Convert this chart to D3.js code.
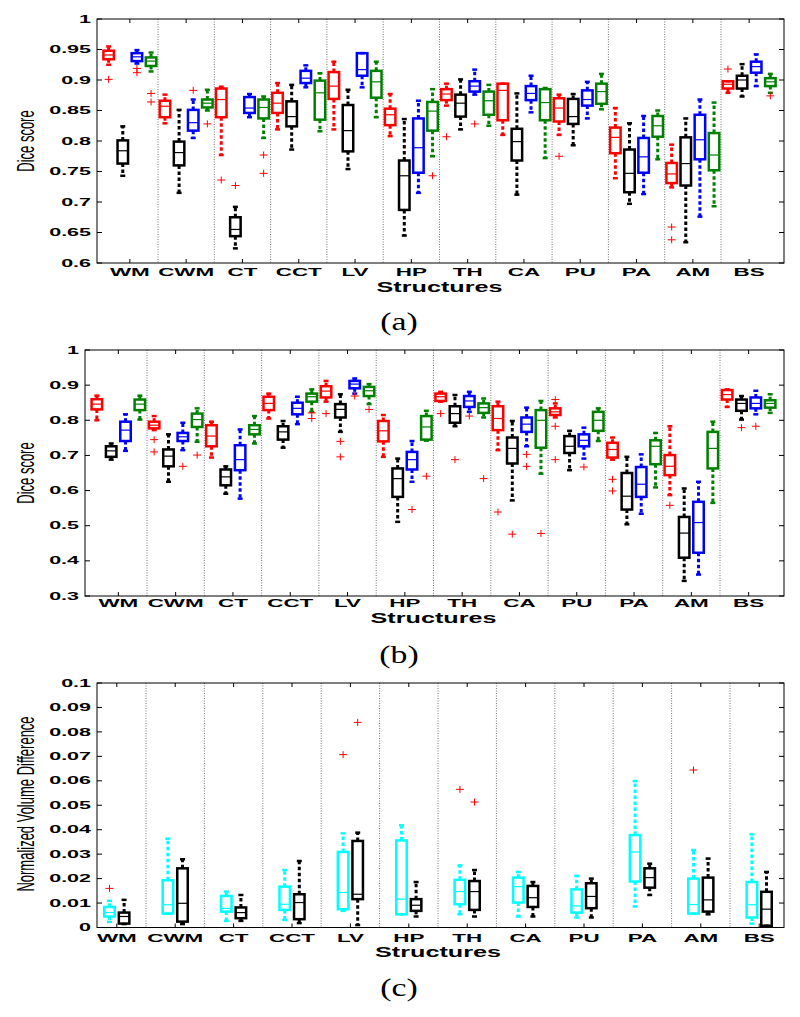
<!DOCTYPE html>
<html><head><meta charset="utf-8">
<script src="https://cdn.jsdelivr.net/npm/d3@7"></script>
<style>body{margin:0;background:#fff}</style>
</head><body>
<svg id="chart" width="800" height="1017"></svg>
<script>
// ---------------- DATA ----------------
const categories = ["WM","CWM","CT","CCT","LV","HP","TH","CA","PU","PA","AM","BS"];
const seriesDice = ["red","black","blue","green"];
const seriesVol = ["cyan","black"];

// stats per category: [lowerWhisker, q1, median, q3, upperWhisker]
const diceA_red = [
 [0.925,0.934,0.941,0.948,0.955],[0.829,0.839,0.857,0.866,0.876],[0.777,0.839,0.868,0.886,0.889],
 [0.819,0.846,0.862,0.879,0.895],[0.819,0.869,0.890,0.913,0.930],[0.808,0.826,0.843,0.853,0.877],
 [0.858,0.867,0.877,0.885,0.894],[0.810,0.834,0.883,0.894,0.894],[0.810,0.832,0.854,0.870,0.876],
 [0.739,0.780,0.806,0.822,0.854],[0.724,0.731,0.746,0.764,0.794],[0.879,0.886,0.893,0.898,0.898]];
const diceA_black = [
 [0.743,0.763,0.784,0.801,0.824],[0.715,0.760,0.781,0.799,0.851],[0.624,0.644,0.655,0.675,0.692],
 [0.786,0.824,0.840,0.865,0.892],[0.754,0.783,0.817,0.859,0.884],[0.645,0.687,0.743,0.768,0.836],
 [0.819,0.840,0.862,0.876,0.901],[0.712,0.768,0.799,0.820,0.878],[0.793,0.828,0.840,0.869,0.877],
 [0.697,0.716,0.747,0.786,0.829],[0.634,0.727,0.763,0.806,0.837],[0.873,0.886,0.900,0.907,0.926]];
const diceA_blue = [
 [0.927,0.931,0.938,0.944,0.949],[0.805,0.817,0.830,0.851,0.868],[0.839,0.846,0.854,0.872,0.877],
 [0.888,0.895,0.903,0.915,0.924],[0.888,0.907,0.917,0.944,0.944],[0.715,0.748,0.789,0.837,0.866],
 [0.876,0.881,0.890,0.898,0.917],[0.847,0.867,0.878,0.890,0.907],[0.837,0.858,0.868,0.883,0.897],
 [0.713,0.748,0.774,0.805,0.841],[0.676,0.770,0.802,0.843,0.868],[0.890,0.912,0.922,0.930,0.942]];
const diceA_green = [
 [0.914,0.923,0.931,0.937,0.945],[0.850,0.855,0.862,0.868,0.884],[0.805,0.837,0.855,0.868,0.873],
 [0.816,0.835,0.879,0.899,0.911],[0.839,0.871,0.897,0.915,0.930],[0.775,0.817,0.849,0.864,0.885],
 [0.825,0.843,0.866,0.881,0.892],[0.772,0.834,0.863,0.885,0.887],[0.852,0.861,0.881,0.894,0.910],
 [0.770,0.807,0.825,0.841,0.850],[0.693,0.752,0.777,0.813,0.863],[0.879,0.890,0.897,0.903,0.910]];
const outA_red = [["WM",0.901],["CT",0.736],["TH",0.807],["PU",0.775],["AM",0.659],["AM",0.638],["BS",0.918]];
const outA_black = [["CT",0.727]];
const outA_blue = [["WM",0.919],["WM",0.912],["CWM",0.883],["TH",0.828]];
const outA_green = [["WM",0.878],["WM",0.864],["CWM",0.828],["CT",0.777],["CT",0.747],["HP",0.743],["BS",0.874]];

const diceB_red = [
 [0.800,0.831,0.846,0.860,0.870],[0.772,0.777,0.786,0.796,0.812],[0.694,0.726,0.755,0.786,0.796],
 [0.805,0.829,0.848,0.867,0.876],[0.853,0.865,0.883,0.897,0.912],[0.696,0.740,0.770,0.798,0.815],
 [0.853,0.855,0.867,0.876,0.881],[0.715,0.772,0.805,0.840,0.853],[0.808,0.815,0.824,0.834,0.848],
 [0.688,0.694,0.717,0.736,0.751],[0.587,0.644,0.669,0.701,0.783],[0.838,0.859,0.873,0.886,0.888]];
const diceB_black = [
 [0.688,0.696,0.713,0.726,0.734],[0.625,0.669,0.698,0.717,0.760],[0.591,0.615,0.639,0.660,0.669],
 [0.722,0.745,0.767,0.783,0.798],[0.767,0.808,0.831,0.846,0.874],[0.511,0.582,0.634,0.663,0.691],
 [0.783,0.793,0.819,0.840,0.872],[0.572,0.677,0.720,0.751,0.798],[0.658,0.707,0.726,0.755,0.770],
 [0.504,0.546,0.584,0.650,0.696],[0.343,0.409,0.479,0.525,0.606],[0.802,0.827,0.848,0.859,0.869]];
const diceB_blue = [
 [0.713,0.741,0.772,0.796,0.817],[0.715,0.741,0.753,0.764,0.793],[0.577,0.658,0.688,0.729,0.774],
 [0.789,0.817,0.834,0.850,0.867],[0.876,0.891,0.903,0.912,0.919],[0.625,0.660,0.688,0.710,0.741],
 [0.824,0.838,0.855,0.869,0.881],[0.726,0.767,0.789,0.808,0.836],[0.691,0.726,0.743,0.760,0.779],
 [0.534,0.582,0.618,0.667,0.703],[0.361,0.423,0.509,0.568,0.625],[0.817,0.834,0.848,0.865,0.884]];
const diceB_green = [
 [0.802,0.829,0.846,0.859,0.870],[0.739,0.781,0.802,0.819,0.834],[0.734,0.760,0.774,0.786,0.812],
 [0.824,0.853,0.867,0.876,0.888],[0.846,0.869,0.884,0.895,0.903],[0.742,0.745,0.781,0.812,0.827],
 [0.808,0.821,0.836,0.848,0.862],[0.648,0.722,0.800,0.829,0.855],[0.741,0.770,0.800,0.824,0.834],
 [0.609,0.675,0.726,0.743,0.764],[0.565,0.663,0.720,0.767,0.796],[0.821,0.836,0.848,0.857,0.874]];
const outB_red = [["CWM",0.745],["CWM",0.710],["LV",0.819],["TH",0.819],["CA",0.539],["PU",0.859],["PU",0.783],["PU",0.688],["PA",0.632],["PA",0.599],["AM",0.558]];
const outB_black = [["LV",0.740],["LV",0.696],["TH",0.688],["CA",0.476],["BS",0.779]];
const outB_blue = [["CWM",0.669],["LV",0.869],["HP",0.546],["TH",0.812],["CA",0.703],["CA",0.669],["PU",0.667],["BS",0.783]];
const outB_green = [["CWM",0.701],["CCT",0.821],["CCT",0.805],["LV",0.831],["HP",0.641],["TH",0.634],["CA",0.478]];

const volC_cyan = [
 [0.0023,0.0045,0.0061,0.0084,0.0109],[0.0057,0.0057,0.0093,0.0193,0.0363],[0.0027,0.0065,0.0078,0.0129,0.0147],
 [0.0031,0.0072,0.0095,0.0167,0.0235],[0.0068,0.0075,0.0143,0.0309,0.0385],[0.0054,0.0054,0.0116,0.0356,0.0418],
 [0.0054,0.0095,0.0147,0.0195,0.0254],[0.0045,0.0102,0.0167,0.0204,0.0227],[0.0041,0.0061,0.0088,0.0156,0.0211],
 [0.0086,0.0188,0.0309,0.0378,0.0599],[0.0057,0.0057,0.0094,0.0200,0.0317],[0.0016,0.0041,0.0093,0.0186,0.0381]];
const volC_black = [
 [0.0014,0.0016,0.0045,0.0061,0.0113],[0.0014,0.0024,0.0099,0.0242,0.0279],[0.0027,0.0038,0.0061,0.0082,0.0133],
 [0.0018,0.0034,0.0102,0.0136,0.0272],[0.0010,0.0116,0.0136,0.0354,0.0388],[0.0045,0.0068,0.0091,0.0116,0.0186],
 [0.0045,0.0072,0.0147,0.0190,0.0235],[0.0045,0.0084,0.0122,0.0170,0.0186],[0.0041,0.0079,0.0127,0.0181,0.0200],
 [0.0133,0.0163,0.0204,0.0242,0.0261],[0.0054,0.0065,0.0113,0.0204,0.0282],[0.0007,0.0007,0.0075,0.0146,0.0227]];
const outC_cyan = [["WM",0.016],["LV",0.0707],["TH",0.0565],["AM",0.0644]];
const outC_black = [["LV",0.0839],["TH",0.0513]];

const yTicksA = [0.6,0.65,0.7,0.75,0.8,0.85,0.9,0.95,1];
const yTickLabelsA = ["0.6","0.65","0.7","0.75","0.8","0.85","0.9","0.95","1"];
const yTicksB = [0.3,0.4,0.5,0.6,0.7,0.8,0.9,1];
const yTickLabelsB = ["0.3","0.4","0.5","0.6","0.7","0.8","0.9","1"];
const yTicksC = [0,0.01,0.02,0.03,0.04,0.05,0.06,0.07,0.08,0.09,0.1];
const yTickLabelsC = ["0","0.01","0.02","0.03","0.04","0.05","0.06","0.07","0.08","0.09","0.1"];

const colors = {red:"#ff0000", black:"#000000", blue:"#0000ff", green:"#008000", cyan:"#00ffff"};

// ---------------- DRAW ----------------
const svg = d3.select("#chart");
svg.append("rect").attr("width",800).attr("height",1017).attr("fill","#fff");

function drawPanel(o) {
  const g = svg.append("g");
  const x = d3.scaleBand().domain(categories).range(o.band).padding(0);
  const y = d3.scaleLinear().domain(o.yDomain).range([o.bottom, o.top]);
  const sub = d3.scalePoint().domain(o.series.map(s => s.name)).range(o.offsets);
  const bw = o.boxWidth, half = bw/2;

  g.selectAll("line.sep").data(categories.slice(1)).join("line")
    .attr("x1", d => x(d)).attr("x2", d => x(d))
    .attr("y1", o.top).attr("y2", o.bottom)
    .attr("stroke","#777").attr("stroke-width",1).attr("stroke-dasharray","1,1.5");

  o.series.forEach(s => {
    const col = colors[s.name];
    const sg = g.append("g");
    const rows = s.stats.map((st,i) => ({cat:categories[i], st, cx: x(categories[i]) + x.bandwidth()/2 + sub(s.name)}));
    sg.selectAll("line.wu").data(rows).join("line")
      .attr("x1", d=>d.cx).attr("x2", d=>d.cx).attr("y1", d=>y(d.st[3])).attr("y2", d=>y(d.st[4]))
      .attr("stroke", col).attr("stroke-width", 3).attr("stroke-dasharray","3.5,2.5");
    sg.selectAll("line.wl").data(rows).join("line")
      .attr("x1", d=>d.cx).attr("x2", d=>d.cx).attr("y1", d=>y(d.st[1])).attr("y2", d=>y(d.st[0]))
      .attr("stroke", col).attr("stroke-width", 3).attr("stroke-dasharray","3.5,2.5");
    [0,4].forEach(k => {
      sg.selectAll("line.cap"+k).data(rows).join("line")
        .attr("x1", d=>d.cx-2.5).attr("x2", d=>d.cx+2.5).attr("y1", d=>y(d.st[k])).attr("y2", d=>y(d.st[k]))
        .attr("stroke", col).attr("stroke-width", 2.5);
    });
    sg.selectAll("rect").data(rows).join("rect")
      .attr("x", d=>d.cx-half).attr("width", bw)
      .attr("y", d=>y(d.st[3])).attr("height", d=>Math.max(0.5, y(d.st[1])-y(d.st[3])))
      .attr("fill","none").attr("stroke", col).attr("stroke-width", 2.5);
    sg.selectAll("line.med").data(rows).join("line")
      .attr("x1", d=>d.cx-half).attr("x2", d=>d.cx+half).attr("y1", d=>y(d.st[2])).attr("y2", d=>y(d.st[2]))
      .attr("stroke", col).attr("stroke-width", 1.2);
    const outs = s.outliers.map(([c,v]) => ({cx: x(c) + x.bandwidth()/2 + sub(s.name), cy: y(v)}));
    const og = sg.selectAll("g.out").data(outs).join("g").attr("transform", d=>`translate(${d.cx},${d.cy})`);
    og.append("line").attr("x1",-4).attr("x2",4).attr("stroke","#ff0000").attr("stroke-width",1);
    og.append("line").attr("y1",-3.5).attr("y2",3.5).attr("stroke","#ff0000").attr("stroke-width",1);
  });

  g.append("rect").attr("x",o.left).attr("y",o.top).attr("width",o.right-o.left).attr("height",o.bottom-o.top)
    .attr("fill","none").attr("stroke","#000").attr("stroke-width",1);

  o.yTicks.forEach((t,i) => {
    const yy = y(t);
    g.append("line").attr("x1",o.left).attr("x2",o.left+5).attr("y1",yy).attr("y2",yy).attr("stroke","#000");
    g.append("line").attr("x1",o.right-5).attr("x2",o.right).attr("y1",yy).attr("y2",yy).attr("stroke","#000");
    g.append("text").attr("transform",`translate(${o.left-6},${yy+3.6}) scale(2.15,1)`)
      .attr("text-anchor","end").attr("font-family","Liberation Sans, Arial, sans-serif")
      .attr("font-weight","bold").attr("font-size",10).text(o.yTickLabels[i]);
  });
  categories.forEach(c => {
    const cx = x(c) + x.bandwidth()/2;
    g.append("line").attr("x1",cx).attr("x2",cx).attr("y1",o.bottom).attr("y2",o.bottom-4).attr("stroke","#000");
    g.append("line").attr("x1",cx).attr("x2",cx).attr("y1",o.top).attr("y2",o.top+4).attr("stroke","#000");
    g.append("text").attr("transform",`translate(${cx},${o.bottom+o.labelDy}) scale(1.95,1)`)
      .attr("text-anchor","middle").attr("font-family","Liberation Sans, Arial, sans-serif")
      .attr("font-weight","bold").attr("font-size",11.5).text(c);
  });
  const mid = (o.band[0]+o.band[1])/2;
  g.append("text").attr("transform",`translate(${mid},${o.bottom+o.titleDy}) scale(1.8,1)`)
    .attr("text-anchor","middle").attr("font-family","Liberation Sans, Arial, sans-serif")
    .attr("font-weight","bold").attr("font-size",14).text("Structures");
  g.append("text").attr("transform",`translate(25,${o.ylabelY}) scale(1.9,1) rotate(-90)`)
    .attr("text-anchor","middle").attr("dy","0.35em").attr("font-family","Liberation Sans, Arial, sans-serif")
    .attr("font-size",13).text(o.ylabel);
  g.append("text").attr("transform",`translate(399,${o.captionY}) scale(1.3,1)`)
    .attr("text-anchor","middle").attr("font-family","Liberation Serif, serif")
    .attr("font-size",26).text(o.caption);
}

drawPanel({
  left:97, right:784, top:19, bottom:263, band:[101.7,777.3], yDomain:[0.6,1],
  yTicks:yTicksA, yTickLabels:yTickLabelsA, offsets:[-21.2,21.2], boxWidth:10.5,
  series: seriesDice.map((n,i)=>({name:n, stats:[diceA_red,diceA_black,diceA_blue,diceA_green][i], outliers:[outA_red,outA_black,outA_blue,outA_green][i]})),
  labelDy:12.5, titleDy:29, ylabel:"Dice score", ylabelY:141, caption:"(a)", captionY:330
});
drawPanel({
  left:85, right:784, top:350, bottom:596, band:[89.7,777.3], yDomain:[0.3,1],
  yTicks:yTicksB, yTickLabels:yTickLabelsB, offsets:[-21.5,21.5], boxWidth:10.5,
  series: seriesDice.map((n,i)=>({name:n, stats:[diceB_red,diceB_black,diceB_blue,diceB_green][i], outliers:[outB_red,outB_black,outB_blue,outB_green][i]})),
  labelDy:11, titleDy:26.5, ylabel:"Dice score", ylabelY:473, caption:"(b)", captionY:663
});
drawPanel({
  left:97, right:784, top:683, bottom:927.5, band:[87.6,788.4], yDomain:[0,0.1],
  yTicks:yTicksC, yTickLabels:yTickLabelsC, offsets:[-7.3,7.3], boxWidth:10.5,
  series: seriesVol.map((n,i)=>({name:n, stats:[volC_cyan,volC_black][i], outliers:[outC_cyan,outC_black][i]})),
  labelDy:14, titleDy:29.5, ylabel:"Normalized Volume Difference", ylabelY:804, caption:"(c)", captionY:996
});
</script>
</body></html>
